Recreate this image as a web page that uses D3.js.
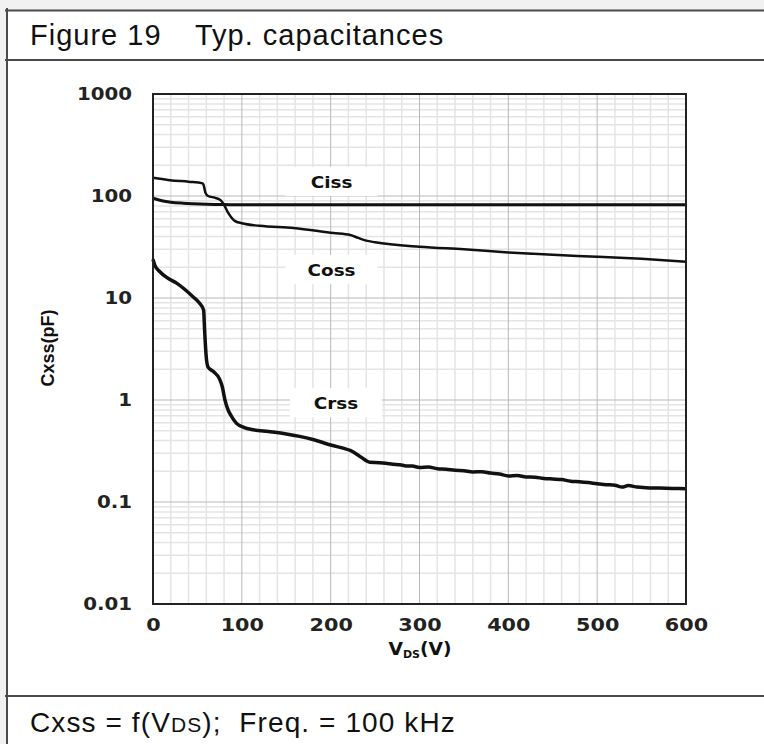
<!DOCTYPE html>
<html>
<head>
<meta charset="utf-8">
<script src="https://cdn.jsdelivr.net/npm/d3@7"></script>
<style>
  body { margin: 0; background: #fff; }
  svg { display: block; }
</style>
</head>
<body>
<div id="chart"></div>
<script>
// values, VDS in V and C in pF
const cissVds = [0, 10, 20, 34, 45, 60, 80, 100, 200, 300, 400, 500, 600]
const ciss = [95, 90, 87, 85, 84, 83, 82.5, 82, 82, 82, 82, 82, 82]

const cossVds = [0, 10, 19, 40, 56, 57, 59, 62, 70, 76, 80, 84, 88, 92, 100, 120, 158, 203, 222, 231, 240, 250, 300, 350, 400, 450, 500, 550, 600]
const coss = [151, 147, 143, 138, 133, 128, 108, 100, 96, 91, 82, 70, 62, 57, 54, 51, 48.6, 43.4, 41.5, 38.8, 36.5, 35.2, 31.8, 30, 28, 26.5, 25.4, 24.2, 22.7]

const crssVds = [0, 2, 8, 15, 27, 45, 52, 57, 58, 60, 62, 68, 75, 78, 81, 85, 88, 94, 102, 113, 130, 150, 165, 180, 201, 215, 222, 233, 244, 255, 262, 270, 278, 285, 292, 300, 310, 320, 330, 340, 350, 360, 370, 380, 390, 400, 410, 420, 430, 440, 450, 460, 470, 480, 490, 500, 510, 520, 528, 535, 545, 555, 570, 585, 600]
const crss = [24, 21, 18, 16, 13.9, 10.3, 9, 7.6, 5, 2.6, 2.1, 1.9, 1.6, 1.35, 1.0, 0.78, 0.7, 0.59, 0.54, 0.51, 0.49, 0.465, 0.44, 0.41, 0.36, 0.335, 0.32, 0.28, 0.245, 0.243, 0.24, 0.235, 0.232, 0.226, 0.225, 0.218, 0.22, 0.212, 0.21, 0.205, 0.203, 0.197, 0.198, 0.192, 0.188, 0.18, 0.182, 0.176, 0.175, 0.17, 0.168, 0.166, 0.16, 0.158, 0.155, 0.151, 0.148, 0.146, 0.14, 0.145, 0.14, 0.138, 0.137, 0.136, 0.135]

const xTicks = [0, 100, 200, 300, 400, 500, 600]
const yTicks = [0.01, 0.1, 1, 10, 100, 1000]
const yTickLabels = ['0.01', '0.1', '1', '10', '100', '1000']

const seriesNames = ['Ciss', 'Coss', 'Crss']
const labelVds = [201, 201, 206]
const labelC = [137, 18.8, 0.93]

const width = 764
const height = 744

const svg = d3.select('#chart').append('svg')
    .attr('width', width)
    .attr('height', height)

drawFrame(svg)
drawPlot(svg)

function drawFrame(svg) {
    svg.append('rect')
        .attr('width', width).attr('height', height)
        .attr('fill', '#f1f1f1')
    svg.append('rect')
        .attr('x', 7).attr('y', 10)
        .attr('width', width - 7).attr('height', height - 10)
        .attr('fill', '#fff')

    const frame = svg.append('g')
        .attr('stroke', '#4a4a4a')
        .attr('stroke-width', 2)
    ;[10.5, 60, 696].forEach(yy => {
        frame.append('line')
            .attr('x1', 5).attr('x2', width)
            .attr('y1', yy).attr('y2', yy)
    })
    frame.append('line')
        .attr('x1', 7).attr('x2', 7)
        .attr('y1', 8).attr('y2', height)

    const textFont = '"Liberation Sans", Arial, sans-serif'
    svg.append('text')
        .attr('x', 30).attr('y', 45)
        .style('font-family', textFont)
        .style('font-size', '29px')
        .style('letter-spacing', '1px')
        .attr('fill', '#111')
        .text('Figure 19')
    svg.append('text')
        .attr('x', 195).attr('y', 45)
        .style('font-family', textFont)
        .style('font-size', '29px')
        .style('letter-spacing', '1px')
        .attr('fill', '#111')
        .text('Typ. capacitances')

    const caption = svg.append('text')
        .attr('x', 30).attr('y', 732)
        .style('font-family', textFont)
        .style('font-size', '28px')
        .style('letter-spacing', '1.1px')
        .attr('fill', '#111')
        .attr('xml:space', 'preserve')
    caption.append('tspan').text('Cxss = f(V')
    caption.append('tspan').style('font-size', '21px').text('DS')
    caption.append('tspan').text(');  Freq. = 100 kHz')
}

function drawPlot(svg) {
    const x = d3.scaleLinear().domain([0, 600]).range([153, 686])
    const y = d3.scaleLog().domain([0.01, 1000]).range([604, 94])

    const grid = svg.append('g')

    // minor grid: every 20 V and 2..9 inside each decade
    const xMinor = d3.range(20, 600, 20).filter(v => v % 100 !== 0)
    const yMinor = []
    yTicks.slice(0, -1).forEach(dec => {
        for (let m = 2; m <= 9; m++) yMinor.push(dec * m)
    })
    grid.selectAll('.xminor')
        .data(xMinor).enter().append('line')
        .attr('x1', d => x(d)).attr('x2', d => x(d))
        .attr('y1', y(1000)).attr('y2', y(0.01))
        .attr('stroke', '#e4e4e4').attr('stroke-width', 1.5)
    grid.selectAll('.yminor')
        .data(yMinor).enter().append('line')
        .attr('x1', x(0)).attr('x2', x(600))
        .attr('y1', d => y(d)).attr('y2', d => y(d))
        .attr('stroke', '#e4e4e4').attr('stroke-width', 1.5)
    grid.selectAll('.xmajor')
        .data(xTicks.slice(1, -1)).enter().append('line')
        .attr('x1', d => x(d)).attr('x2', d => x(d))
        .attr('y1', y(1000)).attr('y2', y(0.01))
        .attr('stroke', '#b8b8b8').attr('stroke-width', 1)
    grid.selectAll('.ymajor')
        .data(yTicks.slice(1, -1)).enter().append('line')
        .attr('x1', x(0)).attr('x2', x(600))
        .attr('y1', d => y(d)).attr('y2', d => y(d))
        .attr('stroke', '#b8b8b8').attr('stroke-width', 1)

    // white boxes behind the curve labels
    svg.selectAll('.labelbox')
        .data(seriesNames).enter().append('rect')
        .attr('x', (d, i) => x(labelVds[i]) - 46)
        .attr('y', (d, i) => y(labelC[i]) - 15)
        .attr('width', 92).attr('height', 29)
        .attr('fill', '#fff')

    const line = d3.line()
        .x(d => x(d[0]))
        .y(d => y(d[1]))
        .curve(d3.curveMonotoneX)

    const series = [
        {name: 'Ciss', points: d3.zip(cissVds, ciss), width: 3},
        {name: 'Coss', points: d3.zip(cossVds, coss), width: 2.5},
        {name: 'Crss', points: d3.zip(crssVds, crss), width: 3.5}
    ]
    svg.selectAll('.curve')
        .data(series).enter().append('path')
        .attr('d', d => line(d.points))
        .attr('fill', 'none')
        .attr('stroke', '#111')
        .attr('stroke-width', d => d.width)
        .attr('stroke-linejoin', 'round')

    svg.selectAll('.curvelabel')
        .data(seriesNames).enter().append('text')
        .attr('transform', (d, i) => 'translate(' + x(labelVds[i]) + ',' + (y(labelC[i]) + 6) + ') scale(1.15,1)')
        .attr('text-anchor', 'middle')
        .style('font-family', '"DejaVu Sans", sans-serif')
        .style('font-weight', 'bold')
        .style('font-size', '16px')
        .attr('fill', '#111')
        .text(d => d)

    // plot border
    svg.append('rect')
        .attr('x', x(0)).attr('y', y(1000))
        .attr('width', x(600) - x(0)).attr('height', y(0.01) - y(1000))
        .attr('fill', 'none')
        .attr('stroke', '#222')
        .attr('stroke-width', 2)

    const xAxis = svg.append('g')
        .attr('transform', 'translate(0,' + y(0.01) + ')')
        .call(d3.axisBottom(x).tickValues(xTicks).tickSize(0).tickPadding(15))
    const yAxis = svg.append('g')
        .attr('transform', 'translate(' + x(0) + ',0)')
        .call(d3.axisLeft(y).tickValues(yTicks).tickFormat((d, i) => yTickLabels[i]).tickSize(0))
    xAxis.select('.domain').remove()
    yAxis.select('.domain').remove()
    xAxis.selectAll('text')
        .style('font-family', '"DejaVu Sans", sans-serif')
        .style('font-weight', 'bold')
        .style('font-size', '17px')
        .attr('fill', '#222')
        .attr('transform', 'scale(1.22,1)')
    yAxis.selectAll('text')
        .style('font-family', '"DejaVu Sans", sans-serif')
        .style('font-weight', 'bold')
        .style('font-size', '18px')
        .attr('fill', '#222')
        .attr('x', -19)
        .attr('transform', 'scale(1.1,1)')

    const xTitle = svg.append('text')
        .attr('transform', 'translate(420,655) scale(1.1,1)')
        .attr('text-anchor', 'middle')
        .style('font-family', '"DejaVu Sans", sans-serif')
        .style('font-weight', 'bold')
        .style('font-size', '17px')
        .attr('fill', '#111')
    xTitle.append('tspan').text('V')
    xTitle.append('tspan').style('font-size', '10px').attr('dy', 3).text('DS')
    xTitle.append('tspan').attr('dy', -3).text('(V)')

    svg.append('text')
        .attr('transform', 'translate(54,348) rotate(-90)')
        .attr('text-anchor', 'middle')
        .style('font-family', '"Liberation Sans Narrow", "Liberation Sans", sans-serif')
        .style('font-weight', 'bold')
        .style('font-size', '18px')
        .attr('fill', '#111')
        .text('Cxss(pF)')
}
</script>
</body>
</html>
